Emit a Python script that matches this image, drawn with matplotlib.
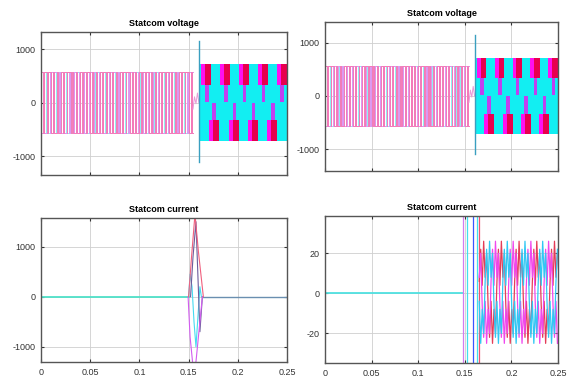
import matplotlib
matplotlib.use("Agg")
import matplotlib.pyplot as plt
import numpy as np

plt.rcParams["font.family"] = ["Liberation Sans", "DejaVu Sans"]

# ---- Statcom voltage (both top panels) ----
v_period = 0.02
v_pre_amp = 570
pre_frac = [0.00, 0.10, 0.15, 0.30, 0.34, 0.50,
            0.60, 0.65, 0.80, 0.84]   # switching instants in one period
pre_sign = [1, -1, 1, -1, 1, -1, 1, -1, 1, -1]
pre_shift = [2 / 3, 1 / 3, 0.0]
pre_colors = ["#8cf0f0", "#dc96f0", "#f47ab8"]
pre_end = 0.1545

wiggle_t = [0.1545, 0.1560, 0.1575, 0.1590, 0.1605]
wiggle_v = [-120, 110, -20, 180, 0]

spike_t = 0.1605
spike_lo, spike_hi = -1100, 1150

post_amp = 720
top_block_t = [0.1630, 0.1823, 0.2012, 0.2205, 0.2398]
bot_block_t = [0.1707, 0.1911, 0.2104, 0.2301]
block_lo = 330      # wide part from here to post_amp
stem_lo = 10        # narrow stem from here to block_lo

# ---- Statcom current, left panel ----
cur_zero_end = 0.150
lens_t = {
    "a": [0.1500, 0.1530, 0.1565, 0.1600, 0.1650],
    "b": [0.1495, 0.1515, 0.1545, 0.1575, 0.1610, 0.1640],
    "c": [0.1500, 0.1515, 0.1535, 0.1555, 0.1575, 0.1595, 0.1615, 0.1630],
    "d": [0.1520, 0.1545, 0.1575, 0.1595, 0.1615, 0.1640],
}
lens_v = {
    "a": [0, 800, 1650, 900, 0],
    "b": [0, -800, -1400, -1300, -600, 0],
    "c": [0, 450, 200, -500, -1000, -400, 200, 0],
    "d": [0, 800, 1500, 400, -700, 0],
}
lens_colors = {"a": "#f0607e", "b": "#d35cf0", "c": "#45dcf0", "d": "#6c5c9c"}

# ---- Statcom current, right panel ----
jump_t = [0.1484, 0.1520, 0.1591, 0.1627, 0.1655]
jump_colors = ["#d27cf0", "#40e0f0", "#3a55ff", "#40e0f0", "#f05070"]
rip_start = 0.1655
rip_period = 0.019
rip_cycle = [6, 22, 4, 26, 8, 20, -6, -22, -4, -25, -8, -20]
rip_shift = [0.0, 1 / 3, 2 / 3]
rip_colors = ["#e43c58", "#f048ee", "#30c8f4"]

x_ticks = [0, 0.05, 0.1, 0.15, 0.2, 0.25]
x_labels = ["0", "0.05", "0.1", "0.15", "0.2", "0.25"]


def style_axes(ax, ylim, yticks, ylabels, xlabels):
    ax.set_xlim(0, 0.25)
    ax.set_ylim(*ylim)
    ax.set_xticks(x_ticks)
    ax.set_xticklabels(x_labels if xlabels else [])
    ax.set_yticks(yticks)
    ax.set_yticklabels(ylabels)
    ax.grid(True, color="#cfcfcf", linewidth=0.6)
    ax.set_axisbelow(True)
    ax.tick_params(direction="in", length=2, labelsize=6.5, colors="#333333",
                   top=True, right=True, pad=4)
    for s in ax.spines.values():
        s.set_color("#555555")
        s.set_linewidth(1.0)


def draw_voltage(ax):
    T = v_period
    for shift, col in zip(pre_shift, pre_colors):
        ts, vs = [], []
        for k in range(-1, 9):
            for f, s in zip(pre_frac, pre_sign):
                ts.append((k + f + shift) * T)
                vs.append(s * v_pre_amp)
        ts = np.array(ts)
        vs = np.array(vs)
        order = np.argsort(ts)
        ts, vs = ts[order], vs[order]
        keep = (ts >= 0) & (ts <= pre_end)
        first = vs[ts < 0][-1]
        ts = np.concatenate([[0], ts[keep], [pre_end]])
        vs = np.concatenate([[first], vs[keep], [vs[keep][-1]]])
        ax.step(ts, vs, where="post", color=col, lw=0.7)
    ax.plot(wiggle_t, wiggle_v, color="#e89ad8", lw=0.7)
    ax.fill_between([spike_t, 0.25], -post_amp, post_amp, color="#12eef2", lw=0)
    for starts, sgn in ((top_block_t, 1), (bot_block_t, -1)):
        starts = np.array(starts)
        ax.bar(starts, sgn * (post_amp - block_lo), width=0.0040,
               bottom=sgn * block_lo, align="edge", color="#ff10f0", lw=0)
        ax.bar(starts + 0.0040, sgn * (post_amp - block_lo), width=0.0062,
               bottom=sgn * block_lo, align="edge", color="#e8004e", lw=0)
        ax.bar(starts + 0.0036, sgn * (block_lo - stem_lo), width=0.0038,
               bottom=sgn * stem_lo, align="edge", color="#c040f0", lw=0)
    ax.plot([spike_t, spike_t], [spike_lo, spike_hi], color="#3a9fc0", lw=1.0)


fig = plt.figure(figsize=(5.71, 3.92), dpi=100)
ax_tl = fig.add_axes([0.0718, 0.5536, 0.4308, 0.3648])
ax_tr = fig.add_axes([0.5692, 0.5638, 0.4080, 0.3801])
ax_bl = fig.add_axes([0.0718, 0.0765, 0.4308, 0.3673])
ax_br = fig.add_axes([0.5692, 0.0740, 0.4080, 0.3750])

for ax, lim in ((ax_tl, (-1350, 1320)), (ax_tr, (-1410, 1390))):
    draw_voltage(ax)
    style_axes(ax, lim, [-1000, 0, 1000], ["-1000", "0", "1000"], False)
    ax.set_title("Statcom voltage", fontsize=6.5, fontweight="bold", pad=4)

# left current
ax_bl.plot([0, cur_zero_end], [0, 0], color="#4fe0c8", lw=1.3)
ax_bl.plot([0.165, 0.25], [0, 0], color="#6a8fb0", lw=1.0)
for key in ("c", "d", "b", "a"):
    ax_bl.plot(lens_t[key], lens_v[key], color=lens_colors[key], lw=0.8)
style_axes(ax_bl, (-1306, 1574), [-1000, 0, 1000], ["-1000", "0", "1000"], True)
ax_bl.set_title("Statcom current", fontsize=6.5, fontweight="bold", pad=4)

# right current
ax_br.plot([0, jump_t[0]], [0, 0], color="#4fe0e0", lw=1.3)
for t, col in zip(jump_t, jump_colors):
    ax_br.plot([t, t], [-40, 40], color=col, lw=0.9)
n = len(rip_cycle)
dt = rip_period / n
for shift, col in zip(rip_shift, rip_colors):
    vals = np.tile(rip_cycle, 6)
    ts = rip_start + np.arange(len(vals)) * dt
    vals = np.roll(vals, -int(round(shift * n)))
    keep = ts <= 0.2505
    ax_br.plot(ts[keep], vals[keep], color=col, lw=0.9)
style_axes(ax_br, (-34.8, 38.6), [-20, 0, 20], ["-20", "0", "20"], True)
ax_br.set_title("Statcom current", fontsize=6.5, fontweight="bold", pad=4)

fig.savefig("out.png", dpi=100)
